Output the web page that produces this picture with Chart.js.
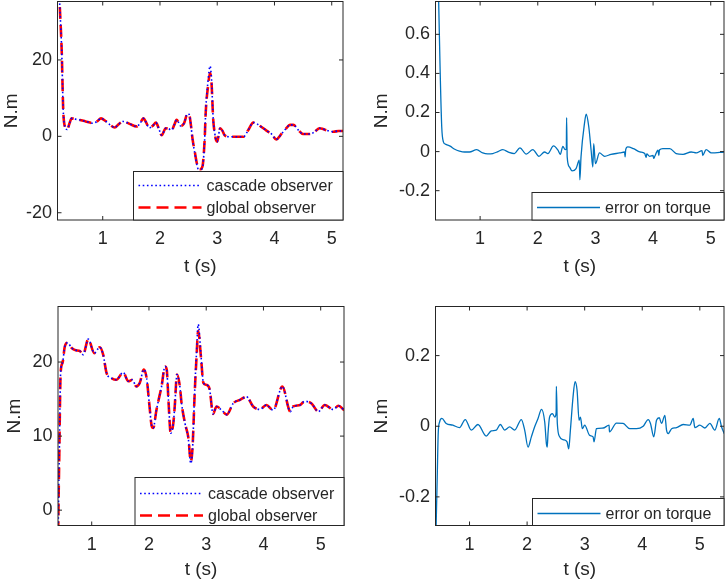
<!DOCTYPE html>
<html>
<head>
<meta charset="utf-8">
<title>Torque observers</title>
<script src="https://cdn.jsdelivr.net/npm/chart.js@4.4.1/dist/chart.umd.min.js"></script>
<style>
  html, body { margin: 0; padding: 0; background: #fff; }
  #figure { position: relative; width: 726px; height: 583px; overflow: hidden; }
  #figure canvas { position: absolute; }
</style>
</head>
<body>
<div id="figure">
  <canvas id="chart--torqueTop" width="363" height="290" style="left:0;top:0"></canvas>
  <canvas id="chart--errorTop" width="363" height="290" style="left:363px;top:0"></canvas>
  <canvas id="chart--torqueBottom" width="363" height="293" style="left:0;top:290px"></canvas>
  <canvas id="chart--errorBottom" width="363" height="293" style="left:363px;top:290px"></canvas>
</div>
<script>
"use strict";

// tick labels
const timeTicks = [1, 2, 3, 4, 5];
const torqueTopTicks = [-20, 0, 20];
const errorTopTicks = [-0.2, 0, 0.2, 0.4, 0.6];
const torqueBottomTicks = [0, 10, 20];
const errorBottomTicks = [-0.2, 0, 0.2];

// top left: estimated torque, first case
const torqueTopTime = [
  0.21, 0.25, 0.283, 0.31, 0.34, 0.38, 0.42, 0.457, 0.52, 0.60,
  0.70, 0.78, 0.835, 0.90, 0.97, 1.05, 1.13, 1.21, 1.28, 1.36,
  1.42, 1.48, 1.59, 1.65, 1.71, 1.76, 1.81, 1.87, 1.93, 1.98,
  2.03, 2.10, 2.15, 2.20, 2.25, 2.29, 2.33, 2.36, 2.42, 2.48,
  2.51, 2.54, 2.57, 2.61, 2.64, 2.67, 2.70, 2.73, 2.75, 2.78,
  2.80, 2.84, 2.875, 2.90, 2.93, 2.96, 2.98, 3.00, 3.05, 3.09,
  3.13, 3.22, 3.34, 3.46, 3.54, 3.63, 3.69, 3.75, 3.86, 3.95,
  4.03, 4.13, 4.20, 4.27, 4.33, 4.42, 4.50, 4.62, 4.70, 4.79,
  4.85, 4.91, 5.03, 5.12, 5.20
];
const cascadeTop = [
  48, 34, 22.6, 6.9, 2.5, 1.8, 3.4, 4.7, 4.5, 4.3,
  3.9, 3.6, 3.4, 3.9, 4.7, 4.0, 3.0, 2.3, 3.2, 3.9,
  3.6, 3.2, 2.6, 3.3, 4.7, 3.6, 2.2, 2.7, 3.6, 2.0,
  0.3, 2.1, 2.0, 1.6, 3.0, 4.3, 3.5, 2.7, 3.4, 5.9,
  5.7, 3.0, -1.0, -4.5, -7.1, -8.8, -9.4, -8.6, -7.6, -1.0,
  6.9, 14.5, 18.4, 15.0, 4.4, 0.5, -1.0, -1.4, 2.1, 1.5,
  0.3, -0.1, -0.1, -0.1, 1.6, 3.6, 3.3, 2.7, 1.5, 0.6,
  -0.8, 0.8, 2.0, 3.0, 3.0, 1.6, 0.6, 0.6, 1.2, 2.1,
  1.9, 1.6, 1.2, 1.4, 1.4
];
const globalTop = [
  48, 34, 22.6, 6.9, 2.5, 1.8, 3.4, 4.7, 4.5, 4.3,
  3.9, 3.6, 3.4, 3.9, 4.7, 4.0, 3.0, 2.3, 3.2, 3.9,
  3.6, 3.2, 2.6, 3.3, 4.7, 3.6, 2.2, 2.7, 3.6, 2.0,
  0.3, 2.1, 2.0, 1.6, 3.0, 4.3, 3.5, 2.7, 3.4, 5.9,
  5.7, 3.0, -0.8, -4.2, -6.8, -8.3, -8.6, -8.3, -7.2, -1.0,
  6.5, 13.2, 16.6, 14.0, 4.4, 0.5, -1.0, -1.4, 2.1, 1.5,
  0.3, -0.1, -0.1, -0.1, 1.6, 3.6, 3.3, 2.7, 1.5, 0.6,
  -0.8, 0.8, 2.0, 3.0, 3.0, 1.6, 0.6, 0.6, 1.2, 2.1,
  1.9, 1.6, 1.2, 1.4, 1.4
];

// top right: error on torque, first case
const errorTopTime = [
  0.22, 0.26, 0.28, 0.305, 0.334, 0.363, 0.398, 0.479, 0.56, 0.641,
  0.73, 0.815, 0.94, 1.046, 1.13, 1.22, 1.31, 1.393, 1.50, 1.594,
  1.69, 1.80, 1.914, 2.02, 2.117, 2.175, 2.273, 2.35, 2.39, 2.435,
  2.475, 2.495, 2.50, 2.51, 2.55, 2.594, 2.664, 2.72, 2.73, 2.75,
  2.81, 2.84, 2.885, 2.925, 2.955, 2.97, 3.00, 3.07, 3.16, 3.27,
  3.42, 3.505, 3.515, 3.525, 3.56, 3.66, 3.77, 3.855, 3.88, 3.89,
  3.94, 4.00, 4.01, 4.03, 4.085, 4.10, 4.11, 4.17, 4.29, 4.40,
  4.52, 4.66, 4.75, 4.85, 4.86, 4.92, 5.01, 5.23
];
const errorTop = [
  1.3, 1.0, 0.78, 0.434, 0.127, 0.05, 0.038, 0.028, 0.012, 0.003,
  -0.002, -0.002, 0.01, -0.007, -0.012, -0.01, 0.0, 0.01, -0.004, -0.01,
  0.019, -0.013, 0.01, -0.024, -0.002, -0.01, 0.029, 0.007, -0.014, 0.027,
  0.01, 0.015, 0.174, -0.027, -0.079, -0.099, -0.087, -0.044, -0.144, -0.027,
  0.144, 0.191, 0.126, 0.007, -0.079, 0.041, -0.062, -0.007, -0.024, -0.014,
  -0.007, -0.002, -0.027, 0.01, 0.024, 0.015, -0.002, -0.01, -0.03, -0.012,
  -0.024, -0.02, -0.035, -0.024, 0.007, -0.02, 0.008, 0.015, 0.015, -0.01,
  -0.014, -0.002, -0.007, 0.005, -0.02, 0.01, -0.007, -0.002
];

// bottom left: estimated torque, second case
const torqueBottomTime = [
  0.41, 0.416, 0.433, 0.457, 0.49, 0.53, 0.58, 0.65, 0.72, 0.79,
  0.85, 0.94, 1.045, 1.14, 1.20, 1.26, 1.35, 1.43, 1.55, 1.64,
  1.71, 1.78, 1.84, 1.91, 1.96, 2.005, 2.05, 2.075, 2.13, 2.18,
  2.22, 2.28, 2.31, 2.34, 2.38, 2.425, 2.45, 2.49, 2.54, 2.57,
  2.63, 2.69, 2.73, 2.76, 2.80, 2.83, 2.86, 2.91, 2.95, 3.01,
  3.06, 3.12, 3.18, 3.27, 3.36, 3.47, 3.59, 3.705, 3.82, 3.94,
  4.05, 4.17, 4.33, 4.47, 4.52, 4.64, 4.72, 4.84, 4.96, 5.07,
  5.22, 5.31, 5.41
];
const cascadeBottom = [
  -8, -2.1, 7.2, 18.5, 19.9, 22.1, 22.6, 21.9, 21.6, 21.5,
  21.0, 23.1, 21.2, 22.0, 21.0, 18.5, 17.8, 17.6, 18.6, 17.4,
  17.6, 16.7, 17.2, 19.0, 17.8, 14.4, 11.3, 11.1, 13.5, 15.3,
  16.7, 19.4, 19.0, 14.9, 10.4, 11.7, 14.0, 18.3, 16.7, 14.4,
  11.7, 9.5, 6.3, 8.1, 16.3, 21.2, 25.1, 20.8, 17.2, 16.9,
  16.3, 13.0, 14.0, 13.5, 12.9, 14.4, 14.9, 15.3, 14.0, 13.6,
  14.2, 13.5, 16.7, 13.3, 14.0, 14.2, 14.7, 14.4, 13.3, 14.2,
  13.6, 14.1, 13.5
];
const globalBottom = [
  -8, -2.1, 7.2, 18.5, 19.9, 22.1, 22.6, 21.9, 21.6, 21.5,
  21.0, 23.1, 21.2, 22.0, 21.0, 18.5, 17.8, 17.6, 18.6, 17.4,
  17.6, 16.7, 17.2, 19.0, 17.8, 14.4, 11.3, 11.1, 13.5, 15.3,
  16.7, 19.4, 19.0, 14.9, 10.4, 11.7, 14.0, 18.3, 16.7, 14.4,
  11.7, 9.7, 6.6, 8.3, 16.0, 20.5, 24.2, 20.5, 17.2, 16.9,
  16.3, 13.0, 14.0, 13.5, 12.9, 14.4, 14.9, 15.3, 14.0, 13.6,
  14.2, 13.5, 16.7, 13.3, 14.0, 14.2, 14.7, 14.4, 13.3, 14.2,
  13.6, 14.1, 13.5
];

// bottom right: error on torque, second case
const errorBottomTime = [
  0.41, 0.42, 0.439, 0.456, 0.48, 0.52, 0.595, 0.71, 0.827, 0.926,
  1.03, 1.146, 1.29, 1.378, 1.465, 1.535, 1.61, 1.697, 1.784, 1.90,
  1.958, 2.016, 2.074, 2.13, 2.19, 2.25, 2.306, 2.335, 2.35, 2.363,
  2.39, 2.44, 2.48, 2.505, 2.508, 2.525, 2.566, 2.624, 2.694, 2.723,
  2.752, 2.798, 2.833, 2.868, 2.903, 2.926, 2.96, 3.0, 3.088, 3.146,
  3.163, 3.204, 3.32, 3.424, 3.43, 3.552, 3.668, 3.784, 3.90, 4.016,
  4.103, 4.143, 4.20, 4.248, 4.295, 4.335, 4.393, 4.422, 4.45, 4.51,
  4.596, 4.71, 4.827, 4.885, 4.914, 5.0, 5.088, 5.175, 5.26, 5.338,
  5.378, 5.425
];
const errorBottom = [
  -0.35, -0.282, -0.144, -0.021, 0.012, 0.022, 0.008, 0.003, -0.004, 0.019,
  -0.011, 0.005, -0.028, -0.013, -0.011, 0.005, -0.011, -0.002, -0.011, 0.019,
  -0.011, -0.059, -0.03, -0.002, 0.022, 0.048, 0.012, -0.049, -0.059, -0.021,
  0.026, 0.036, 0.026, 0.04, 0.113, 0.008, -0.03, -0.038, -0.044, -0.064,
  -0.011, 0.083, 0.126, 0.102, 0.017, 0.026, -0.007, 0.003, -0.026, -0.03,
  -0.044, -0.007, -0.005, 0.003, -0.016, 0.009, 0.008, -0.007, -0.007, 0.0,
  0.019, 0.008, -0.03, 0.017, 0.024, 0.008, 0.031, -0.011, -0.021, -0.007,
  -0.004, 0.005, 0.003, 0.022, -0.004, 0.003, -0.005, 0.008, -0.011, 0.022,
  -0.002, -0.021
];

const axisColor = '#262626';
const fontFamily = '"Liberation Sans", Arial, sans-serif';

function toPoints(xValues, yValues) {
  return xValues.map((x, index) => ({ x, y: yValues[index] }));
}

function cascadeDataset(time, values) {
  return {
    label: 'cascade observer',
    data: toPoints(time, values),
    borderColor: '#0000ff',
    borderWidth: 1.6,
    borderDash: [1.6, 2.6]
  };
}

function globalDataset(time, values) {
  return {
    label: 'global observer',
    data: toPoints(time, values),
    borderColor: '#ff0000',
    borderWidth: 2.6,
    borderDash: [12, 6]
  };
}

function errorDataset(time, values) {
  return {
    label: 'error on torque',
    data: toPoints(time, values),
    borderColor: '#0072bd',
    borderWidth: 1.3
  };
}

// MATLAB style box: frame, inward ticks, legend in the lower right corner
const axisBoxPlugin = {
  id: 'axisBox',
  afterDatasetsDraw(chart, args, options) {
    const { ctx, chartArea: area, scales } = chart;
    ctx.save();
    ctx.strokeStyle = axisColor;
    ctx.lineWidth = 1;
    ctx.setLineDash([]);
    ctx.beginPath();
    for (const tick of scales.x.ticks) {
      const px = scales.x.getPixelForValue(tick.value);
      ctx.moveTo(px, area.bottom);
      ctx.lineTo(px, area.bottom - 4);
      ctx.moveTo(px, area.top);
      ctx.lineTo(px, area.top + 4);
    }
    for (const tick of scales.y.ticks) {
      const py = scales.y.getPixelForValue(tick.value);
      ctx.moveTo(area.left, py);
      ctx.lineTo(area.left + 4, py);
      ctx.moveTo(area.right, py);
      ctx.lineTo(area.right - 4, py);
    }
    ctx.stroke();
    ctx.strokeRect(area.left, area.top, area.right - area.left, area.bottom - area.top);

    const boxLeft = area.right - options.width;
    const boxTop = area.bottom - options.height;
    ctx.fillStyle = '#ffffff';
    ctx.fillRect(boxLeft, boxTop, options.width, options.height);
    ctx.strokeRect(boxLeft, boxTop, options.width, options.height);

    ctx.font = '16px ' + fontFamily;
    ctx.textBaseline = 'middle';
    ctx.textAlign = 'left';
    chart.data.datasets.forEach((dataset, index) => {
      const rowY = boxTop + options.firstRow + index * 22;
      ctx.beginPath();
      ctx.strokeStyle = dataset.borderColor;
      ctx.lineWidth = dataset.borderWidth;
      ctx.setLineDash(dataset.borderDash || []);
      ctx.moveTo(boxLeft + 5, rowY);
      ctx.lineTo(boxLeft + 68, rowY);
      ctx.stroke();
      ctx.fillStyle = axisColor;
      ctx.fillText(dataset.label, boxLeft + 73, rowY + 1);
    });
    ctx.restore();
  }
};

function makeChart(selector, spec) {
  const canvas = document.querySelector(selector);
  return new Chart(canvas, {
    type: 'line',
    data: { datasets: spec.datasets },
    options: {
      responsive: false,
      animation: false,
      events: [],
      layout: { padding: { left: 0, top: spec.top, right: spec.right, bottom: 0 } },
      elements: {
        point: { radius: 0 },
        line: { cubicInterpolationMode: 'monotone', borderCapStyle: 'butt' }
      },
      plugins: {
        legend: { display: false },
        tooltip: { enabled: false },
        axisBox: spec.legend
      },
      scales: {
        x: {
          type: 'linear',
          min: spec.xMin,
          max: spec.xMax,
          grid: { display: false, drawTicks: false },
          border: { display: false },
          ticks: {
            color: axisColor,
            padding: 8.5,
            font: { family: fontFamily, size: 18 },
            callback: (value) => String(value)
          },
          title: {
            display: true,
            text: 't (s)',
            color: axisColor,
            font: { family: fontFamily, size: 19 },
            padding: { top: 0, bottom: spec.xTitleGap }
          },
          afterBuildTicks: (scale) => {
            scale.ticks = timeTicks.map((value) => ({ value }));
          },
          afterFit: (scale) => {
            scale.height = spec.xAxisHeight;
            scale.paddingLeft = 0;
            scale.paddingRight = 0;
          }
        },
        y: {
          type: 'linear',
          min: spec.yMin,
          max: spec.yMax,
          grid: { display: false, drawTicks: false },
          border: { display: false },
          ticks: {
            color: axisColor,
            padding: 5.5,
            font: { family: fontFamily, size: 18 },
            callback: (value) => String(value)
          },
          title: {
            display: true,
            text: 'N.m',
            color: axisColor,
            font: { family: fontFamily, size: 19 },
            padding: { top: spec.yTitleGap, bottom: 0 }
          },
          afterBuildTicks: (scale) => {
            scale.ticks = spec.yTicks.map((value) => ({ value }));
          },
          afterFit: (scale) => {
            scale.width = spec.yAxisWidth;
            scale.paddingTop = 0;
            scale.paddingBottom = 0;
          }
        }
      }
    },
    plugins: [axisBoxPlugin]
  });
}

makeChart('#chart--torqueTop', {
  datasets: [cascadeDataset(torqueTopTime, cascadeTop), globalDataset(torqueTopTime, globalTop)],
  xMin: 0.21, xMax: 5.197, yMin: -21.9, yMax: 35.3, yTicks: torqueTopTicks,
  top: 1.5, right: 20, yAxisWidth: 57.5, xAxisHeight: 70,
  xTitleGap: 11.9, yTitleGap: 0,
  legend: { width: 209.5, height: 48.5, firstRow: 14 }
});

makeChart('#chart--errorTop', {
  datasets: [errorDataset(errorTopTime, errorTop)],
  xMin: 0.226, xMax: 5.23, yMin: -0.35, yMax: 0.768, yTicks: errorTopTicks,
  top: 1.5, right: 2, yAxisWidth: 72.5, xAxisHeight: 70,
  xTitleGap: 11.9, yTitleGap: 7.6,
  legend: { width: 192, height: 27.5, firstRow: 15 }
});

makeChart('#chart--torqueBottom', {
  datasets: [cascadeDataset(torqueBottomTime, cascadeBottom), globalDataset(torqueBottomTime, globalBottom)],
  xMin: 0.411, xMax: 5.407, yMin: -2.07, yMax: 27.5, yTicks: torqueBottomTicks,
  top: 16.5, right: 19, yAxisWidth: 58, xAxisHeight: 57.5,
  xTitleGap: 1.6, yTitleGap: 3.6,
  legend: { width: 209, height: 48, firstRow: 16 }
});

makeChart('#chart--errorBottom', {
  datasets: [errorDataset(errorBottomTime, errorBottom)],
  xMin: 0.409, xMax: 5.42, yMin: -0.281, yMax: 0.339, yTicks: errorBottomTicks,
  top: 16.5, right: 2, yAxisWidth: 72.5, xAxisHeight: 57.5,
  xTitleGap: 1.6, yTitleGap: 7.6,
  legend: { width: 191.5, height: 27, firstRow: 15 }
});
</script>
</body>
</html>
